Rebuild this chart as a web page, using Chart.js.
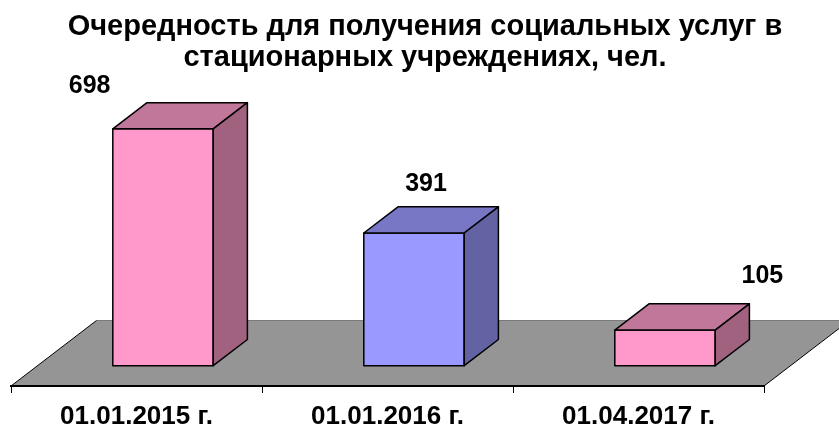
<!DOCTYPE html>
<html lang="ru">
<head>
<meta charset="utf-8">
<title>Очередность</title>
<script src="https://cdn.jsdelivr.net/npm/chart.js@4.4.1/dist/chart.umd.min.js"></script>
<style>
  html, body { margin: 0; padding: 0; background: #fff; }
  canvas { display: block; }
</style>
</head>
<body>
<canvas id="queueChart" width="839" height="428"></canvas>
<script>
const categories = ['01.01.2015 г.', '01.01.2016 г.', '01.04.2017 г.'];
const queueValues = [698, 391, 105];
const titleLines = ['Очередность для получения социальных услуг в', 'стационарных учреждениях, чел.'];

const FONT = "'Liberation Sans', Arial, sans-serif";
const frontColors = ['#FF99CC', '#9999FF', '#FF99CC'];
const topColors = ['#C0779A', '#7777C6', '#C0779A'];
const sideColors = ['#A0627F', '#6363A3', '#A0627F'];

// depth of the floor (projection vector) and where the bars sit inside it
const DEPTH = { x: 85.5, y: -65.5 };
const BAR_FRONT = 0.31;
const BAR_DEPTH = 0.4;

function poly(ctx, pts, fill, stroke, lw) {
    ctx.beginPath();
    ctx.moveTo(pts[0][0], pts[0][1]);
    for (let i = 1; i < pts.length; i++) ctx.lineTo(pts[i][0], pts[i][1]);
    ctx.closePath();
    if (fill) { ctx.fillStyle = fill; ctx.fill(); }
    if (stroke) { ctx.strokeStyle = stroke; ctx.lineWidth = lw || 1; ctx.stroke(); }
}

const floorPlugin = {
    id: 'floor3d',
    beforeDraw(chart) {
        const { ctx, chartArea: a } = chart;
        const l = a.left, r = a.right, b = a.bottom;
        ctx.save();
        poly(ctx, [[l, b], [r, b], [r + DEPTH.x, b + DEPTH.y], [l + DEPTH.x, b + DEPTH.y]], '#959595');
        ctx.lineWidth = 1;
        ctx.strokeStyle = '#7a7a7a';
        ctx.beginPath();
        ctx.moveTo(l + DEPTH.x, b + DEPTH.y);
        ctx.lineTo(r + DEPTH.x, b + DEPTH.y);
        ctx.stroke();
        ctx.strokeStyle = '#000';
        ctx.beginPath();
        ctx.moveTo(l, b); ctx.lineTo(l + DEPTH.x, b + DEPTH.y);
        ctx.moveTo(r, b); ctx.lineTo(r + DEPTH.x, b + DEPTH.y);
        ctx.stroke();
        ctx.restore();
    }
};

const boxPlugin = {
    id: 'bars3d',
    afterDatasetsDraw(chart) {
        const { ctx } = chart;
        const meta = chart.getDatasetMeta(0);
        const fx = DEPTH.x * BAR_FRONT, fy = DEPTH.y * BAR_FRONT;
        const dx = DEPTH.x * BAR_DEPTH, dy = DEPTH.y * BAR_DEPTH;
        ctx.save();
        ctx.lineJoin = 'round';
        meta.data.forEach((bar, i) => {
            const p = bar.getProps(['x', 'y', 'base', 'width'], true);
            const x0 = p.x - p.width / 2 + fx, x1 = p.x + p.width / 2 + fx;
            const top = p.y + fy, bot = p.base + fy;
            poly(ctx, [[x0, top], [x1, top], [x1, bot], [x0, bot]], frontColors[i], '#000', 1.5);
            poly(ctx, [[x0, top], [x0 + dx, top + dy], [x1 + dx, top + dy], [x1, top]], topColors[i], '#000', 1.5);
            poly(ctx, [[x1, top], [x1 + dx, top + dy], [x1 + dx, bot + dy], [x1, bot]], sideColors[i], '#000', 1.5);
        });
        ctx.restore();
    }
};

const valueLabels = {
    id: 'valueLabels',
    afterDatasetsDraw(chart) {
        const { ctx } = chart;
        const meta = chart.getDatasetMeta(0);
        const slot = chart.chartArea.width / categories.length;
        ctx.save();
        ctx.font = 'bold 25px ' + FONT;
        ctx.fillStyle = '#000';
        ctx.textAlign = 'center';
        ctx.textBaseline = 'middle';
        meta.data.forEach((bar, i) => {
            const p = bar.getProps(['x', 'y'], true);
            const x = p.x + DEPTH.x * BAR_FRONT + (i - 1) * slot * 0.34 + 12;
            const y = p.y + DEPTH.y * BAR_FRONT - 43 - 5.5 * i;
            ctx.fillText(String(queueValues[i]), x, y);
        });
        ctx.restore();
    }
};

new Chart(document.getElementById('queueChart').getContext('2d'), {
    type: 'bar',
    data: {
        labels: categories,
        datasets: [{
            label: 'Очередность',
            data: queueValues,
            backgroundColor: 'rgba(0,0,0,0)',
            borderWidth: 0,
            barPercentage: 0.4,
            categoryPercentage: 1.0
        }]
    },
    options: {
        responsive: false,
        animation: false,
        layout: { padding: { left: 11, right: 0, top: 0, bottom: -13 } },
        plugins: {
            legend: { display: false },
            tooltip: { enabled: false },
            title: {
                display: true,
                text: titleLines,
                color: '#000',
                font: { family: FONT, size: 29, weight: 'bold', lineHeight: 1.07 },
                padding: { top: 11.5, bottom: 41 }
            }
        },
        scales: {
            x: {
                offset: true,
                grid: { display: true, drawOnChartArea: false, offset: true, color: '#000', tickLength: 7, lineWidth: 1 },
                border: { display: true, color: '#000', width: 2 },
                ticks: { color: '#000', padding: 11, maxRotation: 0, autoSkip: false,
                         font: { family: FONT, size: 26, weight: 'bold', lineHeight: 1 } }
            },
            y: {
                position: 'right',
                min: 0,
                max: 800,
                grid: { display: false },
                border: { display: false },
                ticks: { display: false },
                afterFit(scale) { scale.width = 75; }
            }
        }
    },
    plugins: [floorPlugin, boxPlugin, valueLabels]
});
</script>
</body>
</html>
